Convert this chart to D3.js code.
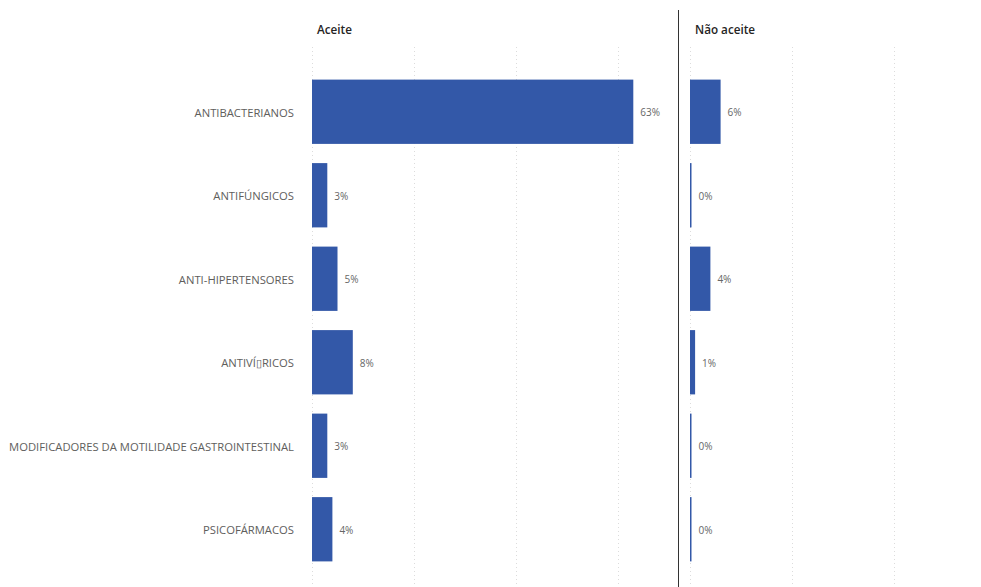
<!DOCTYPE html>
<html>
<head>
<meta charset="utf-8">
<script src="https://cdn.jsdelivr.net/npm/d3@7"></script>
<style>
  html, body { margin: 0; padding: 0; background: #fff; }
  svg { display: block; }
</style>
</head>
<body>
<svg id="chart" width="981" height="587"></svg>
<script>
// Drug classes and share of interventions, split by acceptance
const categories = [
  "ANTIBACTERIANOS",
  "ANTIFÚNGICOS",
  "ANTI-HIPERTENSORES",
  "ANTIVÍ\u25AFRICOS",
  "MODIFICADORES DA MOTILIDADE GASTROINTESTINAL",
  "PSICOFÁRMACOS"
];
const aceite = [63, 3, 5, 8, 3, 4];
const naoAceite = [6, 0, 4, 1, 0, 0];
const panelTitles = ["Aceite", "Não aceite"];
const tickValues = [0, 20, 40, 60];

const svg = d3.select("#chart");
const W = 981, H = 587;
const barColor = "#3358A8";
const fontFam = "'Open Sans', 'Noto Sans', sans-serif";

const y = d3.scaleBand()
  .domain(categories)
  .range([70, 571])
  .paddingInner(0.23)
  .paddingOuter(0.115);

const panels = [
  { title: panelTitles[0], values: aceite,    x: d3.scaleLinear().domain([0, 70]).range([312, 312 + 70 * 5.1]) },
  { title: panelTitles[1], values: naoAceite, x: d3.scaleLinear().domain([0, 58]).range([690, 690 + 58 * 5.1]) }
];

panels.forEach(p => {
  const g = svg.append("g");
  // dotted vertical gridlines
  const ticks = tickValues.filter(t => t <= p.x.domain()[1]);
  g.selectAll("line.grid").data(ticks).join("line")
    .attr("class", "grid")
    .attr("x1", d => Math.round(p.x(d)) + 0.5)
    .attr("x2", d => Math.round(p.x(d)) + 0.5)
    .attr("y1", 47).attr("y2", H)
    .attr("stroke", "#dcdcdc")
    .attr("stroke-width", 1)
    .attr("stroke-dasharray", "1,3");

  // panel title
  g.append("text")
    .attr("x", p.x(0) + 5)
    .attr("y", 34)
    .attr("font-family", fontFam)
    .attr("font-size", 11.7)
    .attr("font-weight", 600)
    .attr("fill", "#252423")
    .text(p.title);

  // bars
  g.selectAll("rect.bar").data(categories).join("rect")
    .attr("class", "bar")
    .attr("x", p.x(0))
    .attr("y", d => y(d))
    .attr("height", y.bandwidth())
    .attr("width", (d, i) => Math.max(1.5, p.x(p.values[i]) - p.x(0)))
    .attr("fill", barColor);

  // value labels
  g.selectAll("text.val").data(categories).join("text")
    .attr("class", "val")
    .attr("x", (d, i) => Math.max(p.x(0) + 1.5, p.x(p.values[i])) + 7)
    .attr("y", d => y(d) + y.bandwidth() / 2 + 1)
    .attr("dy", "0.35em")
    .attr("font-family", fontFam)
    .attr("font-size", 10)
    .attr("fill", "#666")
    .text((d, i) => p.values[i] + "%");
});

// category axis labels
svg.append("g").selectAll("text").data(categories).join("text")
  .attr("x", 294)
  .attr("y", d => y(d) + y.bandwidth() / 2 + 1)
  .attr("dy", "0.35em")
  .attr("text-anchor", "end")
  .attr("font-family", fontFam)
  .attr("font-size", 11.25)
  .attr("fill", "#605E5C")
  .text(d => d);

// separator between the two panels
svg.append("line")
  .attr("x1", 678.5).attr("x2", 678.5)
  .attr("y1", 10).attr("y2", H)
  .attr("stroke", "#333")
  .attr("stroke-width", 1);
</script>
</body>
</html>
